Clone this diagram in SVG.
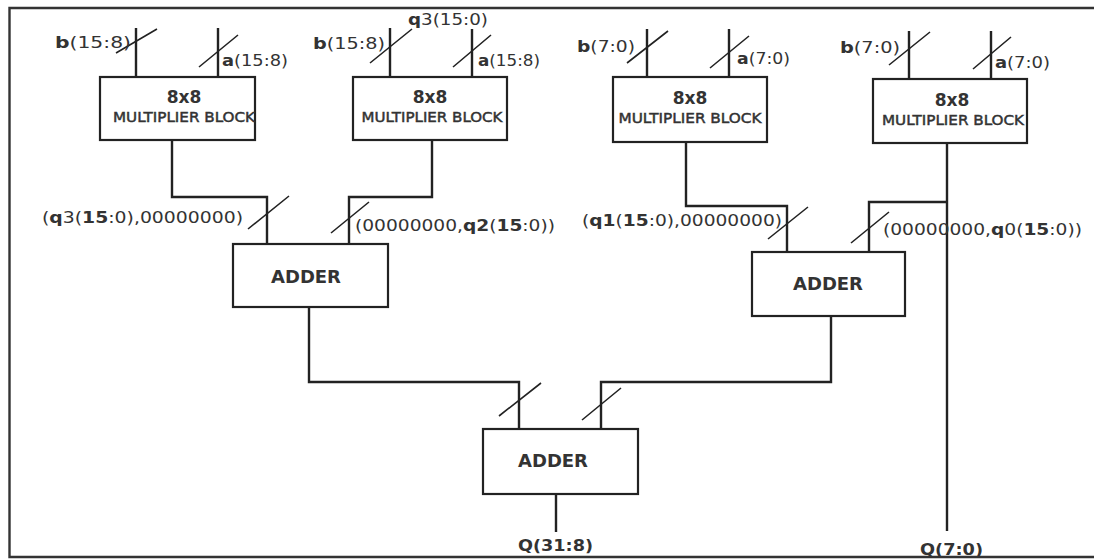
<svg xmlns="http://www.w3.org/2000/svg" width="1094" height="559" viewBox="0 0 1094 559">
<style>
.box{fill:#fff;stroke:#222;stroke-width:2.2}
.w{fill:none;stroke:#222;stroke-width:2.4}
.s{fill:none;stroke:#222;stroke-width:1.6}
.lbl{font-family:"DejaVu Sans",Verdana,sans-serif;font-size:16px;fill:#333}
.b{font-weight:bold}
.t1{font-family:"DejaVu Sans",Verdana,sans-serif;font-size:17px;font-weight:bold;fill:#333;text-anchor:middle}
.t2{font-family:"DejaVu Sans",Verdana,sans-serif;font-size:13.5px;fill:#333;stroke:#333;stroke-width:0.45;text-anchor:middle}
</style>
<rect width="1094" height="559" fill="#fff"/>
<path d="M1100,8 H9.5 V557 H1100" fill="none" stroke="#333" stroke-width="2.4"/>
<g id="connectors">
<path class="w" d="M136,28 V77 M218,28 V77 M390,28 V77 M472,29 V77 M647,29 V77 M729,29 V77 M909,31 V79 M991,31 V79"/>
<path class="w" d="M172,140 V197 H267 V244"/>
<path class="w" d="M432,140 V197 H349 V244"/>
<path class="w" d="M686,142 V206 H787 V252"/>
<path class="w" d="M947,143 V531"/>
<path class="w" d="M947,202 H869 V252"/>
<path class="w" d="M309,307 V382 H519 V429"/>
<path class="w" d="M831,316 V382 H601 V429"/>
<path class="w" d="M556,494 V532"/>
<path class="s" d="M116,53 L157,29 M199,67 L238,35 M370,63 L412,29 M453,67 L491,35 M627,63 L668,31 M710,68 L749,36 M889,65 L930,32 M973,69 L1011,37 M248,229 L289,196 M331,233 L369,202 M768,239 L808,207 M851,243 L889,212 M499,416 L541,383 M582,420 L621,388"/>
</g>
<g id="mult1"><rect class="box" x="100" y="77" width="155" height="63"/><text class="t1" x="184" y="103">8x8</text><text class="t2" x="184" y="122" textLength="142" lengthAdjust="spacingAndGlyphs">MULTIPLIER BLOCK</text></g>
<g id="mult2"><rect class="box" x="353" y="77" width="154" height="63"/><text class="t1" x="430" y="103">8x8</text><text class="t2" x="432" y="122" textLength="141" lengthAdjust="spacingAndGlyphs">MULTIPLIER BLOCK</text></g>
<g id="mult3"><rect class="box" x="613" y="77" width="154" height="65"/><text class="t1" x="690" y="104">8x8</text><text class="t2" x="690" y="123" textLength="143" lengthAdjust="spacingAndGlyphs">MULTIPLIER BLOCK</text></g>
<g id="mult4"><rect class="box" x="873" y="79" width="154" height="64"/><text class="t1" x="952" y="106">8x8</text><text class="t2" x="953" y="125" textLength="142" lengthAdjust="spacingAndGlyphs">MULTIPLIER BLOCK</text></g>
<g id="adder1"><rect class="box" x="233" y="244" width="155" height="63"/><text class="t1" x="306" y="283" textLength="70" lengthAdjust="spacingAndGlyphs">ADDER</text></g>
<g id="adder2"><rect class="box" x="752" y="252" width="153" height="64"/><text class="t1" x="828" y="290" textLength="70" lengthAdjust="spacingAndGlyphs">ADDER</text></g>
<g id="adder3"><rect class="box" x="483" y="429" width="155" height="65"/><text class="t1" x="553" y="467" textLength="70" lengthAdjust="spacingAndGlyphs">ADDER</text></g>
<g id="labels">
<text class="lbl" x="55" y="48" textLength="76" lengthAdjust="spacingAndGlyphs"><tspan class="b">b</tspan>(15:8)</text>
<text class="lbl" x="222" y="66" textLength="66" lengthAdjust="spacingAndGlyphs"><tspan class="b">a</tspan>(15:8)</text>
<text class="lbl" x="408" y="25" textLength="80" lengthAdjust="spacingAndGlyphs"><tspan class="b">q</tspan>3(15:0)</text>
<text class="lbl" x="313" y="49" textLength="72" lengthAdjust="spacingAndGlyphs"><tspan class="b">b</tspan>(15:8)</text>
<text class="lbl" x="478" y="66" textLength="62" lengthAdjust="spacingAndGlyphs"><tspan class="b">a</tspan>(15:8)</text>
<text class="lbl" x="577" y="52" textLength="58" lengthAdjust="spacingAndGlyphs"><tspan class="b">b</tspan>(7:0)</text>
<text class="lbl" x="737" y="64" textLength="53" lengthAdjust="spacingAndGlyphs"><tspan class="b">a</tspan>(7:0)</text>
<text class="lbl" x="840" y="53" textLength="60" lengthAdjust="spacingAndGlyphs"><tspan class="b">b</tspan>(7:0)</text>
<text class="lbl" x="995" y="68" textLength="55" lengthAdjust="spacingAndGlyphs"><tspan class="b">a</tspan>(7:0)</text>
<text class="lbl" x="42" y="223" textLength="201" lengthAdjust="spacingAndGlyphs">(<tspan class="b">q</tspan>3(<tspan class="b">15</tspan>:0),00000000)</text>
<text class="lbl" x="355" y="231" textLength="200" lengthAdjust="spacingAndGlyphs">(00000000,<tspan class="b">q2</tspan>(<tspan class="b">15</tspan>:0))</text>
<text class="lbl" x="582" y="226" textLength="200" lengthAdjust="spacingAndGlyphs">(<tspan class="b">q1</tspan>(<tspan class="b">15</tspan>:0),00000000)</text>
<text class="lbl" x="883" y="235" textLength="199" lengthAdjust="spacingAndGlyphs">(00000000,<tspan class="b">q</tspan>0(<tspan class="b">15</tspan>:0))</text>
<text class="lbl b" x="518" y="551" textLength="75" lengthAdjust="spacingAndGlyphs">Q(31:8)</text>
<text class="lbl b" x="920" y="555" textLength="63" lengthAdjust="spacingAndGlyphs">Q(7:0)</text>
</g>
</svg>
